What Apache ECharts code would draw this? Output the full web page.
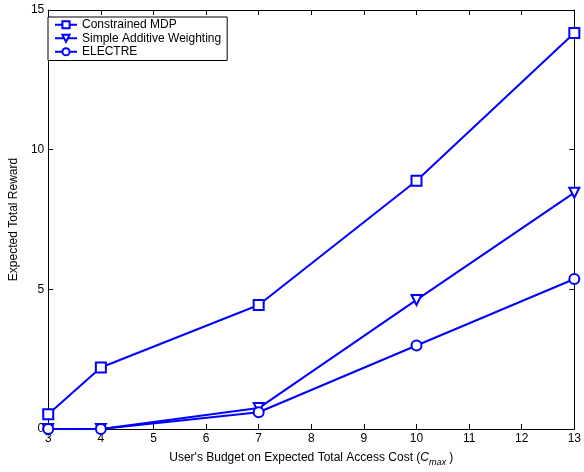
<!DOCTYPE html>
<html><head><meta charset="utf-8">
<script src="https://cdn.jsdelivr.net/npm/echarts@6/dist/echarts.min.js"></script>
<style>html,body{margin:0;padding:0;background:#fff}#c{width:584px;height:472px}</style>
</head><body><div id="c"></div>
<script>
var budgets = [3, 4, 7, 10, 13];
var mdp = [0.53, 2.2, 4.44, 8.89, 14.18];
var saw = [0, 0, 0.75, 4.62, 8.46];
var electre = [0, 0, 0.6, 2.99, 5.37];
var names = ['Constrained MDP', 'Simple Additive Weighting', 'ELECTRE'];

function pairs(xs, ys){ return xs.map(function(x,i){ return [x, ys[i]]; }); }
var font = 'Liberation Sans, Arial, Helvetica, sans-serif';
var chart = echarts.init(document.getElementById('c'), null, {renderer:'canvas'});
var axisCommon = {
  axisLine:{show:true, onZero:false, lineStyle:{color:'#000', width:1}},
  axisTick:{show:true, inside:true, length:5, lineStyle:{color:'#000'}},
  splitLine:{show:false},
  axisLabel:{color:'#000', fontSize:12, fontFamily:font}
};
function mk(name, data, sym, rot){
  return {name:name, type:'line', data:data, symbol:sym, symbolSize:10, symbolRotate:rot,
    showAllSymbol:true, lineStyle:{color:'#0000ff', width:2}, itemStyle:{color:'#0000ff', borderColor:'#0000ff', borderWidth:1.5},
    emphasis:{disabled:true}, z:3};
}
chart.setOption({
  animation:false,
  backgroundColor:'#fff',
  grid:{left:42, right:7, top:10, bottom:40, containLabel:false},
  legend:{orient:'vertical', left:48, top:17, data:names, backgroundColor:'#fff', borderColor:'#000', borderWidth:1,
    padding:[1,6,2,6], itemGap:0, itemWidth:22, itemHeight:9,
    textStyle:{color:'#000', fontSize:12, fontFamily:font, lineHeight:13.5}},
  xAxis:[
    Object.assign({type:'value', min:3, max:13, interval:1, position:'bottom',
      name:'User\'s Budget on Expected Total Access Cost ({i|C}{s|max} )', nameLocation:'middle', nameGap:20,
      nameTextStyle:{color:'#000', fontSize:12, fontFamily:font,
        rich:{i:{fontStyle:'italic', fontSize:12, fontFamily:font, color:'#000'}, s:{fontStyle:'italic', fontSize:9, fontFamily:font, color:'#000', padding:[9,0,0,0]}}}}, axisCommon,
      {axisLabel:{color:'#000', fontSize:12, fontFamily:font, margin:4}}),
    Object.assign({type:'value', min:3, max:13, interval:1, position:'top'}, axisCommon, {axisLabel:{show:false}})
  ],
  yAxis:[
    Object.assign({type:'value', min:0, max:15, interval:5, position:'left',
      name:'Expected Total Reward', nameLocation:'middle', nameGap:28,
      nameTextStyle:{color:'#000', fontSize:12, fontFamily:font}}, axisCommon,
      {axisLabel:{color:'#000', fontSize:12, fontFamily:font, margin:4}}),
    Object.assign({type:'value', min:0, max:15, interval:5, position:'right'}, axisCommon, {axisLabel:{show:false}})
  ],
  series:[
    mk(names[0], pairs(budgets, mdp), 'emptyRect', 0),
    mk(names[1], pairs(budgets, saw), 'emptyTriangle', 180),
    mk(names[2], pairs(budgets, electre), 'emptyCircle', 0)
  ]
});
</script></body></html>
